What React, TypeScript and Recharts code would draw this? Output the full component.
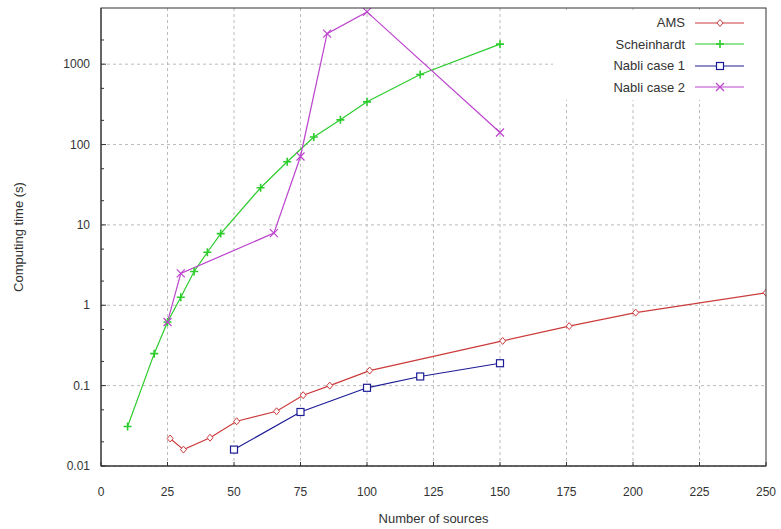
import { LineChart, Line, XAxis, YAxis, CartesianGrid } from 'recharts';

// sources vs. computing time (s)
const amsX = [26, 31, 41, 51, 66, 76, 86, 101, 151, 176, 201, 250];
const amsY = [0.022, 0.016, 0.0225, 0.036, 0.048, 0.076, 0.1, 0.154, 0.36, 0.55, 0.81, 1.43];

const scheinX = [10, 20, 25, 30, 35, 40, 45, 60, 70, 80, 90, 100, 120, 150];
const scheinY = [0.031, 0.25, 0.62, 1.26, 2.63, 4.57, 7.8, 29, 61, 124, 203, 340, 743, 1775];

const nabli1X = [50, 75, 100, 120, 150];
const nabli1Y = [0.016, 0.047, 0.094, 0.13, 0.19];

const nabli2X = [25, 30, 65, 75, 85, 100, 150];
const nabli2Y = [0.62, 2.49, 7.9, 71, 2400, 4470, 141];

const xDomain = [0, 250];
const yDomain = [0.01, 5000];
const xTicks = [0, 25, 50, 75, 100, 125, 150, 175, 200, 225, 250];
const xGrid = [25, 50, 75, 100, 125, 150, 175, 200, 225];
const yMajor = [0.01, 0.1, 1, 10, 100, 1000];
const yMinor = [0.02, 0.05, 0.2, 0.5, 2, 5, 20, 50, 200, 500, 2000];
const yTicks = [...yMajor, ...yMinor].sort((a, b) => a - b);

const toPoints = (xs: number[], ys: number[]) => xs.map((x, i) => ({ x, y: ys[i] }));

const FONT = '"Liberation Sans", Arial, sans-serif';
const AXIS = '#333';

// chart box
const W = 781;
const H = 529;
const M = { top: 8, right: 15, left: 0, bottom: 0 };
const Y_AXIS_W = 101;
const X_AXIS_H = 63;

type Marker = 'diamond' | 'plus' | 'square' | 'cross';

const series = [
  { name: 'AMS', color: '#cc3b3b', marker: 'diamond' as Marker, data: toPoints(amsX, amsY) },
  { name: 'Scheinhardt', color: '#2ccc2c', marker: 'plus' as Marker, data: toPoints(scheinX, scheinY) },
  { name: 'Nabli case 1', color: '#1c1c96', marker: 'square' as Marker, data: toPoints(nabli1X, nabli1Y) },
  { name: 'Nabli case 2', color: '#bb44cc', marker: 'cross' as Marker, data: toPoints(nabli2X, nabli2Y) },
];

function markerShape(kind: Marker, cx: number, cy: number, color: string) {
  switch (kind) {
    case 'diamond':
      return <path d={`M${cx},${cy - 3.5}L${cx + 3},${cy}L${cx},${cy + 3.5}L${cx - 3},${cy}Z`} fill="#fff" stroke={color} strokeWidth={1} />;
    case 'plus':
      return <path d={`M${cx - 4},${cy}H${cx + 4}M${cx},${cy - 4}V${cy + 4}`} stroke={color} strokeWidth={1.6} />;
    case 'square':
      return <rect x={cx - 3.5} y={cy - 3.5} width={7} height={7} fill="#fff" stroke={color} strokeWidth={1.2} />;
    default:
      return <path d={`M${cx - 4},${cy - 4}L${cx + 4},${cy + 4}M${cx - 4},${cy + 4}L${cx + 4},${cy - 4}`} stroke={color} strokeWidth={1.2} />;
  }
}

const dotFor = (kind: Marker, color: string) => (p: any) => {
  const { cx, cy, index } = p;
  if (cx == null || cy == null) return <g key={index} />;
  return <g key={index}>{markerShape(kind, cx, cy, color)}</g>;
};

const LeftTick = (p: any) => {
  const { x, y, payload } = p;
  const major = yMajor.includes(payload.value);
  return (
    <g>
      <line x1={x} x2={x + (major ? 5 : 3)} y1={y} y2={y} stroke={AXIS} />
      {major && (
        <text x={x - 11} y={y} dy={4} textAnchor="end" fontSize={12} fontFamily={FONT} fill="#333">
          {payload.value}
        </text>
      )}
    </g>
  );
};

const BottomTick = (p: any) => {
  const { x, y, payload } = p;
  return (
    <g>
      <line x1={x} x2={x} y1={y} y2={y - 4} stroke={AXIS} />
      <text x={x} y={y + 30} textAnchor="middle" fontSize={12} fontFamily={FONT} fill="#333">
        {payload.value}
      </text>
    </g>
  );
};

function LegendBox() {
  return (
    <div style={{ position: 'absolute', left: 553, top: 10, width: 211, height: 88, background: '#fff', paddingTop: 2 }}>
      {series.map((s) => (
        <div key={s.name} style={{ display: 'flex', alignItems: 'center', height: 21.5 }}>
          <div style={{ width: 132, textAlign: 'right', fontFamily: FONT, fontSize: 13, color: '#333' }}>{s.name}</div>
          <svg width={60} height={14} style={{ marginLeft: 8 }}>
            <line x1={2} x2={51} y1={7} y2={7} stroke={s.color} strokeWidth={1.2} />
            {markerShape(s.marker, 27, 7, s.color)}
          </svg>
        </div>
      ))}
    </div>
  );
}

// frame around the plot area (top and right edges; left/bottom come from the axes)
function Frame() {
  const x0 = M.left + Y_AXIS_W;
  const y0 = M.top;
  const w = W - M.right - x0;
  const h = H - M.bottom - X_AXIS_H - y0;
  return (
    <svg width={W} height={H} style={{ position: 'absolute', left: 0, top: 0, pointerEvents: 'none' }}>
      <rect x={x0} y={y0} width={w} height={h} fill="none" stroke={AXIS} />
    </svg>
  );
}

export default function App() {
  return (
    <div style={{ position: 'absolute', left: 0, top: 0, width: W, height: H, background: '#fff' }}>
      <LineChart width={W} height={H} margin={M}>
        <CartesianGrid stroke="#bbb" strokeDasharray="3 3" horizontalValues={yMajor} verticalValues={xGrid} />
        <XAxis
          type="number"
          dataKey="x"
          domain={xDomain}
          ticks={xTicks}
          interval={0}
          allowDataOverflow
          height={X_AXIS_H}
          tickSize={0}
          tickMargin={0}
          tickLine={false}
          tick={BottomTick}
          axisLine={{ stroke: AXIS }}
          label={{ value: 'Number of sources', position: 'insideBottom', offset: 6, fontSize: 13, fontFamily: FONT, fill: '#333' }}
        />
        <YAxis
          scale="log"
          type="number"
          domain={yDomain}
          ticks={yTicks}
          interval={0}
          allowDataOverflow
          width={Y_AXIS_W}
          tickSize={0}
          tickMargin={0}
          tickLine={false}
          tick={LeftTick}
          axisLine={{ stroke: AXIS }}
          label={{ value: 'Computing time (s)', angle: -90, position: 'insideLeft', offset: 18, fontSize: 13, fontFamily: FONT, fill: '#333', style: { textAnchor: 'middle' } }}
        />
        {series.map((s) => (
          <Line
            key={s.name}
            data={s.data}
            dataKey="y"
            name={s.name}
            type="linear"
            stroke={s.color}
            strokeWidth={1.2}
            dot={dotFor(s.marker, s.color)}
            activeDot={false}
            isAnimationActive={false}
          />
        ))}
      </LineChart>
      <LegendBox />
      <Frame />
    </div>
  );
}
